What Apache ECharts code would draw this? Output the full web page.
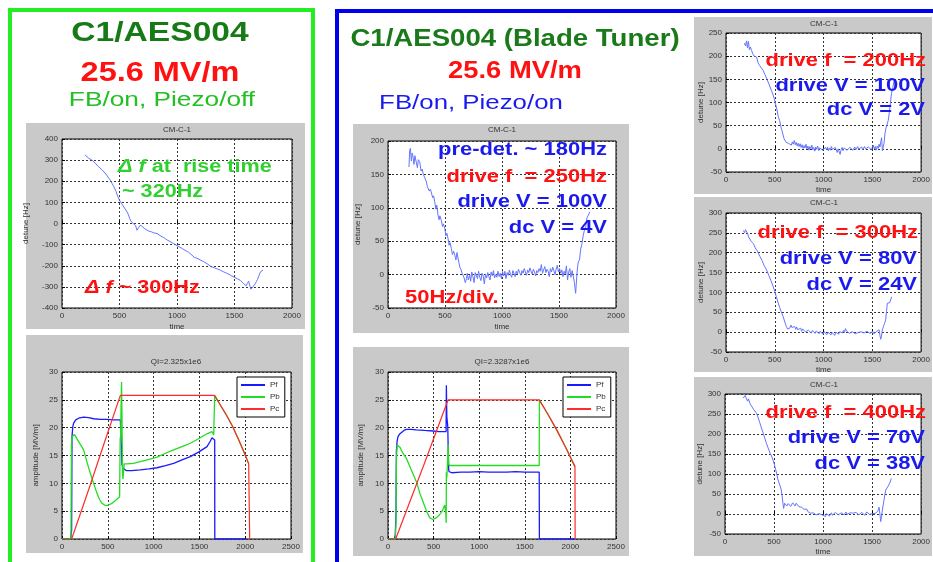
<!DOCTYPE html>
<html>
<head>
<meta charset="utf-8">
<title>C1/AES004 detune</title>
<script src="https://cdn.jsdelivr.net/npm/echarts@6/dist/echarts.min.js"></script>
<style>
  html, body { margin: 0; padding: 0; background: #fff; }
  #chart { width: 933px; height: 562px; }
</style>
</head>
<body>
<div id="chart"></div>
<script>
// detune [Hz] vs time
const ltDetune = [[200,325],[215,318],[230,310],[245,306],[260,300],[275,292],[290,285],[300,280],[315,270],[330,262],[345,256],[360,250],[380,235],[400,220],[420,205],[435,190],[450,175],[470,152],[485,128],[500,110],[515,97],[530,85],[545,72],[560,60],[575,45],[590,22],[600,10],[610,5],[620,0],[630,-5],[640,-10],[652,-32],[658,-25],[665,-20],[673,-12],[681,-8],[690,-14],[700,-15],[710,-20],[720,-25],[735,-22],[750,-35],[765,-33],[780,-40],[790,-38],[800,-45],[815,-43],[826,-47],[840,-52],[860,-60],[880,-65],[900,-72],[920,-80],[940,-85],[955,-90],[971,-95],[985,-98],[1000,-105],[1025,-112],[1050,-120],[1065,-124],[1080,-130],[1100,-136],[1116,-142],[1130,-150],[1140,-155],[1150,-160],[1160,-158],[1175,-165],[1200,-172],[1230,-180],[1261,-190],[1280,-198],[1300,-205],[1325,-210],[1350,-215],[1380,-222],[1406,-229],[1430,-235],[1450,-240],[1475,-248],[1500,-255],[1525,-262],[1551,-269],[1565,-275],[1580,-285],[1594,-292],[1602,-295],[1610,-285],[1623,-273],[1633,-295],[1643,-311],[1652,-305],[1660,-300],[1670,-292],[1681,-285],[1690,-275],[1700,-265],[1712,-248],[1725,-229],[1735,-225],[1748,-221]];

const mtDetune = [[184,161],[190,185],[196,189],[205,170],[212,182],[220,176],[228,165],[236,178],[249,176],[258,160],[266,172],[278,169],[290,155],[300,158],[310,150],[322,151],[335,140],[345,132],[351,134],[362,125],[372,128],[381,126],[392,115],[400,118],[410,109],[420,98],[428,104],[439,89],[448,82],[455,88],[468,81],[478,72],[486,76],[498,69],[508,58],[516,62],[527,54],[536,44],[544,48],[556,39],[565,30],[575,35],[586,29],[596,22],[605,33],[615,31],[622,18],[630,11],[640,8],[650,2],[659,4],[668,-5],[678,-12],[688,-6],[695,2],[704,-8],[717,-1],[725,-10],[735,4],[745,-3],[755,-12],[765,3],[775,-2],[785,-6],[795,5],[805,-4],[815,-9],[825,2],[835,-2],[845,-14],[855,1],[865,-5],[875,3],[885,-3],[895,-8],[905,4],[915,-2],[925,6],[935,-5],[945,0],[955,-4],[965,5],[975,-3],[985,2],[995,-6],[1005,4],[1015,-2],[1025,5],[1035,-6],[1045,3],[1055,-1],[1065,7],[1075,0],[1085,-4],[1095,6],[1105,2],[1115,-3],[1125,5],[1135,1],[1145,8],[1155,3],[1165,-1],[1175,6],[1185,2],[1195,9],[1205,4],[1215,-1],[1225,7],[1235,3],[1245,10],[1255,5],[1265,1],[1275,8],[1285,4],[1295,-2],[1305,6],[1315,3],[1325,9],[1335,5],[1345,15],[1355,2],[1365,7],[1375,12],[1385,3],[1395,8],[1405,5],[1415,-3],[1425,9],[1435,4],[1445,11],[1455,6],[1465,0],[1475,8],[1485,14],[1495,4],[1505,9],[1515,2],[1525,7],[1535,-3],[1545,5],[1555,1],[1565,13],[1575,-8],[1585,4],[1595,9],[1605,-4],[1615,6],[1625,-2],[1635,-12],[1646,-28],[1655,-5],[1662,10],[1669,19],[1680,22],[1690,38],[1700,45],[1713,59],[1725,68],[1735,72],[1745,85],[1757,89],[1771,94]];

const r1Detune = [[189,228],[200,222],[210,233],[220,218],[229,232],[240,214],[250,220],[263,212],[275,205],[290,200],[300,196],[314,198],[330,185],[345,180],[360,175],[381,169],[400,160],[420,150],[440,140],[465,126],[480,118],[495,108],[516,90],[525,82],[535,70],[550,61],[560,50],[570,42],[583,32],[595,22],[605,18],[617,14],[630,10],[640,12],[651,11],[660,16],[670,8],[680,15],[690,10],[700,18],[710,9],[720,14],[730,6],[740,12],[750,5],[760,11],[770,3],[780,9],[790,1],[800,7],[810,2],[820,10],[830,0],[840,6],[850,-3],[860,5],[870,0],[880,8],[890,-2],[900,3],[910,-5],[920,4],[930,-1],[940,6],[950,-4],[960,2],[970,-2],[980,5],[990,-3],[1000,1],[1010,-6],[1020,3],[1030,-2],[1040,4],[1050,-4],[1060,2],[1070,-3],[1080,5],[1090,-1],[1100,2],[1110,-5],[1120,3],[1130,-2],[1140,-8],[1150,0],[1160,-4],[1170,-12],[1180,-2],[1190,3],[1200,-4],[1210,2],[1220,-1],[1230,4],[1240,-3],[1250,1],[1260,-2],[1270,3],[1280,-1],[1290,2],[1300,-3],[1310,1],[1320,4],[1330,-2],[1340,2],[1350,5],[1360,-1],[1370,3],[1380,0],[1390,4],[1400,-2],[1410,2],[1420,5],[1430,0],[1440,3],[1450,-1],[1460,4],[1470,1],[1480,6],[1490,-2],[1500,3],[1510,8],[1520,0],[1530,5],[1540,-3],[1550,6],[1560,1],[1570,10],[1578,4],[1586,14],[1595,24],[1603,-4],[1612,-4],[1620,12],[1629,32],[1640,45],[1650,52],[1663,61],[1675,80],[1685,98],[1696,119],[1710,132],[1723,147]];

const r2Detune = [[180,256],[190,250],[200,258],[214,262],[222,248],[231,240],[245,235],[260,228],[281,223],[300,212],[320,205],[349,190],[370,180],[390,168],[417,156],[440,142],[460,130],[485,114],[500,102],[515,90],[536,73],[550,62],[565,52],[586,39],[600,28],[610,20],[620,14],[630,8],[640,12],[654,10],[665,18],[675,12],[685,16],[695,9],[705,14],[715,7],[725,13],[735,6],[745,11],[755,4],[765,10],[775,2],[785,8],[795,3],[805,9],[815,1],[825,6],[835,-1],[845,5],[855,0],[865,7],[875,-2],[885,4],[895,0],[905,6],[915,-3],[925,3],[935,-1],[945,5],[955,-4],[965,2],[975,-2],[985,4],[995,-5],[1005,1],[1015,-3],[1025,3],[1035,-6],[1045,0],[1055,-4],[1065,2],[1075,-7],[1085,-1],[1095,-4],[1105,3],[1115,-8],[1125,0],[1135,-3],[1145,4],[1155,-5],[1165,1],[1175,-4],[1185,2],[1195,-2],[1205,5],[1215,-1],[1225,9],[1235,3],[1245,-2],[1255,4],[1265,-3],[1275,2],[1285,-5],[1295,1],[1305,-2],[1315,3],[1325,-4],[1335,0],[1345,-6],[1355,-1],[1365,2],[1375,-4],[1385,1],[1395,-3],[1405,3],[1415,-2],[1425,0],[1435,-5],[1445,2],[1455,-1],[1465,3],[1475,-3],[1485,1],[1495,-2],[1505,2],[1515,-4],[1525,0],[1535,-3],[1545,2],[1555,-2],[1569,6],[1578,-8],[1586,-18],[1594,-10],[1603,6],[1615,15],[1625,22],[1637,31],[1645,52],[1654,73],[1665,70],[1678,74],[1688,77],[1698,89]];

const r3Detune = [[186,290],[195,285],[205,296],[220,298],[230,282],[240,288],[253,277],[270,270],[290,262],[305,258],[321,252],[340,240],[355,228],[372,215],[390,202],[405,190],[422,177],[440,165],[460,152],[475,145],[490,135],[505,122],[520,108],[541,85],[555,75],[565,68],[574,60],[585,40],[592,25],[598,14],[608,27],[618,24],[630,20],[645,26],[659,23],[670,19],[680,22],[690,28],[700,24],[715,20],[726,27],[740,22],[755,18],[770,21],[781,17],[794,18],[805,12],[815,15],[825,9],[835,12],[845,6],[861,6],[870,2],[880,5],[890,-1],[900,3],[910,0],[920,4],[930,-2],[940,2],[950,-3],[960,1],[970,-4],[980,2],[997,-3],[1005,-8],[1015,-2],[1025,-6],[1035,1],[1045,-4],[1055,2],[1065,-5],[1075,-1],[1085,3],[1095,-3],[1105,1],[1115,-2],[1125,4],[1135,0],[1145,3],[1155,-2],[1165,2],[1175,-1],[1185,3],[1195,0],[1205,4],[1215,-2],[1225,1],[1235,5],[1245,-1],[1255,2],[1265,-3],[1275,3],[1285,0],[1295,5],[1305,2],[1315,6],[1325,1],[1335,4],[1345,0],[1355,3],[1365,-2],[1375,2],[1385,-1],[1395,4],[1405,0],[1415,3],[1425,-3],[1435,1],[1445,5],[1455,0],[1465,3],[1475,-1],[1485,2],[1495,-4],[1505,1],[1515,-2],[1525,3],[1537,2],[1550,-3],[1560,8],[1571,17],[1580,0],[1588,-19],[1596,-8],[1605,10],[1615,25],[1625,40],[1639,60],[1650,65],[1660,68],[1672,73],[1685,80],[1696,89]];

// amplitude [MV/m], left (piezo off) and middle (piezo on)
const lbPf = [[0,0],[95,0],[100,1],[105,1.5],[109,18.4],[118,20.2],[127,20.8],[150,21.4],[182,21.7],[236,21.9],[290,21.8],[346,21.6],[420,21.5],[491,21.5],[560,21.4],[637,21.4],[645,21.3],[650,21.2],[652,15],[655,13.2],[658,14.8],[662,12.8],[670,12.5],[700,12.3],[760,12.3],[855,12.4],[950,12.6],[1037,12.8],[1130,13.2],[1219,13.6],[1310,14.2],[1401,14.8],[1490,15.6],[1583,16.6],[1620,17.6],[1637,18.2],[1650,17.9],[1667,17.8],[1668,0],[2000,0]];
const lbPb = [[0,0],[98,0],[103,17],[109,18.3],[120,18.6],[135,18.8],[145,18.7],[170,17.8],[200,17],[236,16],[270,14],[309,11.8],[345,10],[382,8.2],[410,7.1],[437,6.4],[465,6.1],[491,6.0],[520,6.2],[546,6.4],[590,7],[629,7.6],[633,7.7],[635,18],[640,18.5],[645,24],[650,28.2],[655,22],[660,12],[665,10.8],[673,10.9],[680,13.5],[710,13.5],[780,13.6],[855,13.9],[950,14.3],[1037,14.7],[1130,15.4],[1219,16],[1310,16.6],[1401,17.2],[1490,18],[1583,18.9],[1637,19.3],[1656,18.7],[1665,18.8],[1667,25.8],[1720,24.3],[1790,22.4],[1860,20.3],[1930,17.8],[1990,15.5],[2038,13.5]];
const lbPc = [[0,0],[105,0],[116,0.3],[300,9.3],[450,16.7],[637,25.8],[1000,25.8],[1300,25.8],[1663,25.8],[1720,24.3],[1790,22.4],[1860,20.3],[1930,17.8],[1990,15.5],[2038,13.5],[2049,0]];

const mbPf = [[0,0],[70,0],[80,0.8],[88,5],[92,15.7],[100,17.6],[110,18.4],[125,18.8],[146,19.1],[175,19.5],[201,19.7],[250,19.7],[311,19.6],[400,19.5],[494,19.4],[560,19.3],[637,19.3],[640,27.6],[645,22],[655,20.3],[660,20.3],[665,12.5],[670,12.1],[700,11.9],[800,12.0],[900,12.0],[1000,12.1],[1100,12.0],[1200,12.0],[1300,12.0],[1400,12.1],[1500,12.0],[1600,12.0],[1658,12.0],[1660,0],[2050,0]];
const mbPb = [[0,0],[80,0],[88,3],[92,14],[100,16.9],[110,17.1],[130,16.5],[160,15.5],[201,14.5],[250,12.6],[311,10.3],[350,8.2],[384,6.7],[420,5.1],[457,3.8],[494,3.5],[530,3.8],[567,4.4],[600,5.2],[622,6.1],[630,5.8],[633,4.7],[638,2.9],[640,12],[645,11],[652,13.6],[660,17],[665,13.6],[670,13.2],[700,13.2],[900,13.2],[1100,13.2],[1300,13.2],[1500,13.2],[1658,13.2],[1660,25],[1750,22.5],[1850,19.6],[1950,16.4],[2050,13]];
const mbPc = [[0,0],[84,0],[99,0.2],[400,13.6],[659,25],[1000,25],[1300,25],[1658,25],[1750,22.5],[1850,19.6],[1950,16.4],[2050,13],[2052,0]];

const detuneTicks = { xMax: 2000, xStep: 500 };
const ampTicks = { xMax: 2500, xStep: 500, yMax: 30, yStep: 5 };

const FONT = "'Liberation Sans', Arial, sans-serif";
const GRAY = "#c9c9c9";
const DETUNE_BLUE = "#6475ff";
const SX = 1.2; // slide text is stretched a little horizontally

function txt(x, y, s, size, color, opts) {
  opts = opts || {};
  return {
    type: "text", x: x, y: y, z: 100,
    scaleX: opts.sx || SX,
    style: {
      text: s, fill: color, font: (opts.weight || "bold") + " " + size + "px " + FONT,
      textAlign: opts.align || "left", textVerticalAlign: "middle",
      rich: opts.rich
    }
  };
}
function small(x, y, s) {
  return { type: "text", x: x, y: y, z: 100, style: { text: s, fill: "#333", font: "8px " + FONT, textAlign: "center", textVerticalAlign: "middle" } };
}
function panel(x, y, w, h) {
  return { type: "rect", shape: { x: x, y: y, width: w, height: h }, style: { fill: GRAY }, z: -10 };
}

function mkGrid(l, t, w, h) {
  return { left: l, top: t, width: w, height: h, show: true, backgroundColor: "#fff", borderColor: "#000", borderWidth: 1 };
}
function axisCommon() {
  return {
    type: "value",
    axisLine: { show: false },
    axisTick: { show: true, inside: true, length: 3, lineStyle: { color: "#000" } },
    axisLabel: { fontSize: 8, color: "#333", fontFamily: FONT, margin: 4, formatter: function (v) { return String(v); } },
    splitLine: { show: true, lineStyle: { color: "#333", type: [2, 2], width: 1 } },
    nameTextStyle: { fontSize: 8, color: "#333", fontFamily: FONT }
  };
}
function xAx(gi, max, step, name, gap) {
  return Object.assign(axisCommon(), { gridIndex: gi, min: 0, max: max, interval: step, name: name, nameLocation: "middle", nameGap: gap || 15 });
}
function yAx(gi, min, max, step, name, gap) {
  return Object.assign(axisCommon(), { gridIndex: gi, min: min, max: max, interval: step, name: name, nameLocation: "middle", nameRotate: 90, nameGap: gap });
}
function line(gi, name, data, color, w) {
  return {
    type: "line", name: name, xAxisIndex: gi, yAxisIndex: gi, data: data,
    showSymbol: false, symbol: "none", color: color,
    lineStyle: { color: color, width: w || 1 }, animation: false, clip: true
  };
}

const PF = "#1a1aff", PB = "#22dd22", PC = "#ff2a2a";
const RED = "#ff1111", BLUE = "#1a1aee", GREEN_A = "#2fd02f";

let option = {
  backgroundColor: "#fff",
  animation: false,
  grid: [
    mkGrid(62, 139, 230, 169),   // 0 left detune
    mkGrid(62, 372, 229, 167),   // 1 left amplitude
    mkGrid(388, 141, 228, 167),  // 2 middle detune
    mkGrid(388, 372, 228, 167),  // 3 middle amplitude
    mkGrid(726, 33, 197, 139),   // 4 right 200Hz
    mkGrid(726, 213, 196, 139),  // 5 right 300Hz
    mkGrid(725, 394, 197, 140)   // 6 right 400Hz
  ],
  xAxis: [
    xAx(0, detuneTicks.xMax, detuneTicks.xStep, "time", 15),
    xAx(1, ampTicks.xMax, ampTicks.xStep, "", 15),
    xAx(2, detuneTicks.xMax, detuneTicks.xStep, "time", 15),
    xAx(3, ampTicks.xMax, ampTicks.xStep, "", 15),
    xAx(4, detuneTicks.xMax, detuneTicks.xStep, "time", 14),
    xAx(5, detuneTicks.xMax, detuneTicks.xStep, "time", 14),
    xAx(6, detuneTicks.xMax, detuneTicks.xStep, "time", 14)
  ],
  yAxis: [
    yAx(0, -400, 400, 100, "detune [Hz]", 32),
    yAx(1, 0, ampTicks.yMax, ampTicks.yStep, "amplitude [MV/m]", 22),
    yAx(2, -50, 200, 50, "detune [Hz]", 26),
    yAx(3, 0, ampTicks.yMax, ampTicks.yStep, "amplitude [MV/m]", 23),
    yAx(4, -50, 250, 50, "detune [Hz]", 21),
    yAx(5, -50, 300, 50, "detune [Hz]", 21),
    yAx(6, -50, 300, 50, "detune [Hz]", 21)
  ],
  legend: [
    {
      data: ["Pf", "Pb", "Pc"], orient: "vertical", left: 237, top: 377,
      icon: "rect", itemWidth: 24, itemHeight: 2, itemGap: 4, padding: [4, 5, 4, 4],
      backgroundColor: "#fff", borderColor: "#000", borderWidth: 1, borderRadius: 0,
      textStyle: { fontSize: 8, color: "#333", fontFamily: FONT }, selectedMode: false
    },
    {
      data: ["Pf", "Pb", "Pc"], orient: "vertical", left: 563, top: 377,
      icon: "rect", itemWidth: 24, itemHeight: 2, itemGap: 4, padding: [4, 5, 4, 4],
      backgroundColor: "#fff", borderColor: "#000", borderWidth: 1, borderRadius: 0,
      textStyle: { fontSize: 8, color: "#333", fontFamily: FONT }, selectedMode: false
    }
  ],
  series: [
    line(0, "detune", ltDetune, DETUNE_BLUE),
    line(1, "Pf", lbPf, PF, 1.3),
    line(1, "Pb", lbPb, PB, 1.3),
    line(1, "Pc", lbPc, PC, 1.2),
    line(2, "detune", mtDetune, DETUNE_BLUE),
    line(3, "Pf", mbPf, PF, 1.3),
    line(3, "Pb", mbPb, PB, 1.3),
    line(3, "Pc", mbPc, PC, 1.2),
    line(4, "detune", r1Detune, DETUNE_BLUE),
    line(5, "detune", r2Detune, DETUNE_BLUE),
    line(6, "detune", r3Detune, DETUNE_BLUE)
  ],
  graphic: [
    // frames
    { type: "rect", shape: { x: 10, y: 10, width: 303, height: 600 }, style: { fill: "none", stroke: "#22ee22", lineWidth: 4 }, z: -20 },
    { type: "rect", shape: { x: 337, y: 11, width: 700, height: 600 }, style: { fill: "none", stroke: "#0000ee", lineWidth: 4 }, z: -20 },
    // gray figure backgrounds
    panel(26, 123, 279, 206),
    panel(26, 335, 277, 218),
    panel(353, 124, 276, 209),
    panel(353, 347, 276, 209),
    panel(694, 17, 238, 177),
    panel(694, 197, 238, 175),
    panel(694, 377, 238, 179),
    // slide titles
    txt(160, 33, "C1/AES004", 28, "#167a16", { align: "center" }),
    txt(160, 73, "25.6 MV/m", 28, RED, { align: "center", sx: 1.16 }),
    txt(162, 100, "FB/on, Piezo/off", 21, "#22c022", { align: "center", weight: "normal", sx: 1.25 }),
    txt(515, 40, "C1/AES004 (Blade Tuner)", 23, "#1a7a1a", { align: "center" }),
    txt(515, 72, "25.6 MV/m", 23, RED, { align: "center", sx: 1.19 }),
    txt(471, 103, "FB/on, Piezo/on", 21, BLUE, { align: "center", weight: "normal", sx: 1.23 }),
    // figure titles
    small(177, 130, "CM-C-1"),
    small(176, 362, "QI=2.325x1e6"),
    small(502, 130, "CM-C-1"),
    small(502, 362, "QI=2.3287x1e6"),
    small(824, 24, "CM-C-1"),
    small(824, 203, "CM-C-1"),
    small(824, 385, "CM-C-1"),
    // left annotations
    txt(118, 167, "{i|Δ f} at  rise time", 18, GREEN_A, { rich: { i: { fontStyle: "italic", fontWeight: "bold", fontSize: 18, fill: GREEN_A, fontFamily: FONT } } }),
    txt(122, 192, "~ 320Hz", 18, GREEN_A),
    txt(85, 288, "{i|Δ f} ~ 300Hz", 18, RED, { rich: { i: { fontStyle: "italic", fontWeight: "bold", fontSize: 18, fill: RED, fontFamily: FONT } } }),
    // middle annotations
    txt(607, 150, "pre-det. ~ 180Hz", 18, BLUE, { align: "right", sx: 1.22 }),
    txt(607, 177, "drive f  = 250Hz", 18, RED, { align: "right", sx: 1.22 }),
    txt(607, 202, "drive V = 100V", 18, BLUE, { align: "right", sx: 1.22 }),
    txt(607, 228, "dc V = 4V", 18, BLUE, { align: "right", sx: 1.22 }),
    txt(405, 298, "50Hz/div.", 18, RED, { sx: 1.22 }),
    // right annotations
    txt(926, 61, "drive f  = 200Hz", 18, RED, { align: "right", sx: 1.22 }),
    txt(925, 86, "drive V = 100V", 18, BLUE, { align: "right", sx: 1.22 }),
    txt(925, 110, "dc V = 2V", 18, BLUE, { align: "right", sx: 1.22 }),
    txt(918, 233, "drive f  = 300Hz", 18, RED, { align: "right", sx: 1.22 }),
    txt(917, 259, "drive V = 80V", 18, BLUE, { align: "right", sx: 1.22 }),
    txt(917, 285, "dc V = 24V", 18, BLUE, { align: "right", sx: 1.22 }),
    txt(926, 413, "drive f  = 400Hz", 18, RED, { align: "right", sx: 1.22 }),
    txt(925, 438, "drive V = 70V", 18, BLUE, { align: "right", sx: 1.22 }),
    txt(925, 464, "dc V = 38V", 18, BLUE, { align: "right", sx: 1.22 })
  ]
};

let myChart = echarts.init(document.getElementById("chart"), null, { renderer: "canvas" });
myChart.setOption(option);
</script>
</body>
</html>
